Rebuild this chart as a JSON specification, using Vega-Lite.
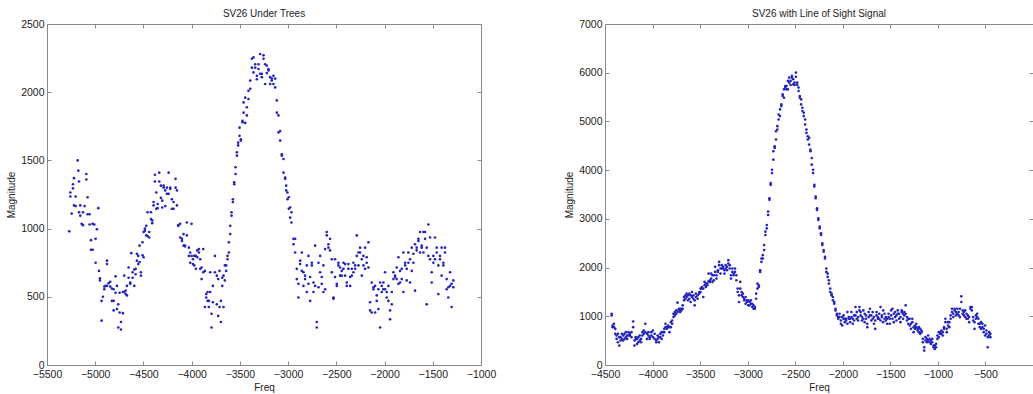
{
"$schema": "https://vega.github.io/schema/vega-lite/v6.json",
"background": "white",
"padding": {"left": 6, "top": 8, "right": 0, "bottom": 0},
"config": {
  "font": "Liberation Sans",
  "view": {"stroke": "#8a8a8a", "strokeWidth": 1},
  "axis": {"grid": false, "domain": false, "tickSize": -4, "tickColor": "#8a8a8a", "labelPadding": 7, "labelFontSize": 10.5, "labelColor": "#222222", "titleFontSize": 10, "titleFontWeight": "normal", "titleColor": "#222222", "titlePadding": 4, "labelFlush": false, "format": "d"},
  "axisBottom": {"labelPadding": 8, "titlePadding": 3},
  "axisTop": {"labelPadding": 0},
  "axisRight": {"labelPadding": 0},
  "title": {"fontSize": 10, "fontWeight": "normal", "color": "#222222", "offset": 0, "dy": 4}
},
"datasets": {
"trees": [
{"f":-5269,"m":980},{"f":-5258,"m":1265},{"f":-5258,"m":1235},{"f":-5244,"m":1110},{"f":-5231,"m":1325},{"f":-5231,"m":1295},{"f":-5220,"m":1370},{"f":-5220,"m":1170},{"f":-5203,"m":1235},{"f":-5203,"m":1165},{"f":-5182,"m":1500},{"f":-5175,"m":1425},{"f":-5168,"m":1345},{"f":-5168,"m":1120},{"f":-5155,"m":1170},{"f":-5155,"m":1095},{"f":-5141,"m":1035},{"f":-5127,"m":1120},{"f":-5127,"m":1025},{"f":-5110,"m":1165},{"f":-5092,"m":1400},{"f":-5092,"m":1360},{"f":-5079,"m":1230},{"f":-5079,"m":1105},{"f":-5058,"m":1105},{"f":-5058,"m":1030},{"f":-5044,"m":915},{"f":-5044,"m":845},{"f":-5027,"m":845},{"f":-5027,"m":1035},{"f":-5010,"m":1030},{"f":-4996,"m":925},{"f":-4996,"m":750},{"f":-4982,"m":995},{"f":-4968,"m":1150},{"f":-4961,"m":690},{"f":-4951,"m":635},{"f":-4951,"m":620},{"f":-4934,"m":470},{"f":-4934,"m":325},{"f":-4920,"m":500},{"f":-4906,"m":575},{"f":-4906,"m":555},{"f":-4892,"m":580},{"f":-4878,"m":765},{"f":-4878,"m":740},{"f":-4878,"m":580},{"f":-4861,"m":600},{"f":-4844,"m":610},{"f":-4844,"m":575},{"f":-4827,"m":560},{"f":-4827,"m":470},{"f":-4809,"m":555},{"f":-4809,"m":470},{"f":-4809,"m":400},{"f":-4789,"m":650},{"f":-4789,"m":530},{"f":-4775,"m":580},{"f":-4775,"m":410},{"f":-4761,"m":275},{"f":-4761,"m":445},{"f":-4747,"m":385},{"f":-4747,"m":530},{"f":-4733,"m":260},{"f":-4733,"m":315},{"f":-4713,"m":380},{"f":-4713,"m":535},{"f":-4699,"m":535},{"f":-4699,"m":655},{"f":-4685,"m":545},{"f":-4685,"m":520},{"f":-4671,"m":510},{"f":-4671,"m":580},{"f":-4654,"m":640},{"f":-4654,"m":715},{"f":-4637,"m":595},{"f":-4637,"m":605},{"f":-4626,"m":820},{"f":-4612,"m":680},{"f":-4612,"m":640},{"f":-4595,"m":700},{"f":-4595,"m":580},{"f":-4581,"m":665},{"f":-4581,"m":705},{"f":-4568,"m":765},{"f":-4568,"m":815},{"f":-4554,"m":740},{"f":-4554,"m":800},{"f":-4540,"m":755},{"f":-4540,"m":875},{"f":-4526,"m":655},{"f":-4526,"m":680},{"f":-4509,"m":900},{"f":-4509,"m":805},{"f":-4498,"m":975},{"f":-4498,"m":790},{"f":-4485,"m":1000},{"f":-4485,"m":985},{"f":-4471,"m":1020},{"f":-4471,"m":950},{"f":-4457,"m":945},{"f":-4457,"m":1120},{"f":-4440,"m":935},{"f":-4440,"m":975},{"f":-4422,"m":1070},{"f":-4422,"m":1120},{"f":-4409,"m":1060},{"f":-4409,"m":1040},{"f":-4395,"m":1195},{"f":-4395,"m":1170},{"f":-4381,"m":1395},{"f":-4381,"m":1345},{"f":-4367,"m":1265},{"f":-4367,"m":1145},{"f":-4353,"m":1180},{"f":-4353,"m":1150},{"f":-4336,"m":1410},{"f":-4336,"m":1345},{"f":-4319,"m":1315},{"f":-4319,"m":1225},{"f":-4305,"m":1155},{"f":-4305,"m":1205},{"f":-4291,"m":1315},{"f":-4291,"m":1300},{"f":-4274,"m":1280},{"f":-4274,"m":1165},{"f":-4257,"m":1255},{"f":-4257,"m":1300},{"f":-4239,"m":1255},{"f":-4239,"m":1410},{"f":-4222,"m":1300},{"f":-4222,"m":1290},{"f":-4205,"m":1145},{"f":-4205,"m":1215},{"f":-4188,"m":1195},{"f":-4188,"m":1145},{"f":-4167,"m":1365},{"f":-4167,"m":1300},{"f":-4153,"m":1170},{"f":-4153,"m":1280},{"f":-4139,"m":1020},{"f":-4139,"m":1025},{"f":-4119,"m":935},{"f":-4119,"m":1035},{"f":-4101,"m":925},{"f":-4101,"m":910},{"f":-4084,"m":875},{"f":-4084,"m":960},{"f":-4070,"m":875},{"f":-4070,"m":870},{"f":-4050,"m":1045},{"f":-4050,"m":950},{"f":-4029,"m":800},{"f":-4029,"m":860},{"f":-4015,"m":825},{"f":-4015,"m":750},{"f":-4001,"m":1035},{"f":-4001,"m":800},{"f":-3987,"m":740},{"f":-3987,"m":775},{"f":-3973,"m":800},{"f":-3973,"m":730},{"f":-3956,"m":800},{"f":-3956,"m":705},{"f":-3942,"m":840},{"f":-3942,"m":790},{"f":-3925,"m":825},{"f":-3925,"m":850},{"f":-3911,"m":775},{"f":-3911,"m":705},{"f":-3897,"m":630},{"f":-3897,"m":715},{"f":-3880,"m":850},{"f":-3880,"m":680},{"f":-3863,"m":425},{"f":-3863,"m":690},{"f":-3849,"m":495},{"f":-3849,"m":520},{"f":-3835,"m":535},{"f":-3835,"m":470},{"f":-3822,"m":425},{"f":-3822,"m":470},{"f":-3808,"m":535},{"f":-3808,"m":680},{"f":-3794,"m":275},{"f":-3794,"m":375},{"f":-3780,"m":580},{"f":-3780,"m":460},{"f":-3759,"m":800},{"f":-3759,"m":680},{"f":-3739,"m":655},{"f":-3739,"m":445},{"f":-3725,"m":360},{"f":-3725,"m":630},{"f":-3711,"m":690},{"f":-3711,"m":425},{"f":-3697,"m":315},{"f":-3697,"m":470},{"f":-3683,"m":640},{"f":-3683,"m":580},{"f":-3670,"m":655},{"f":-3670,"m":425},{"f":-3656,"m":620},{"f":-3656,"m":730},{"f":-3642,"m":690},{"f":-3642,"m":730},{"f":-3628,"m":800},{"f":-3628,"m":775},{"f":-3614,"m":900},{"f":-3614,"m":825},{"f":-3600,"m":960},{"f":-3600,"m":1020},{"f":-3587,"m":1120},{"f":-3587,"m":1095},{"f":-3573,"m":1215},{"f":-3573,"m":1195},{"f":-3559,"m":1340},{"f":-3559,"m":1325},{"f":-3545,"m":1400},{"f":-3545,"m":1450},{"f":-3531,"m":1535},{"f":-3531,"m":1560},{"f":-3518,"m":1610},{"f":-3518,"m":1630},{"f":-3504,"m":1680},{"f":-3504,"m":1740},{"f":-3490,"m":1645},{"f":-3490,"m":1655},{"f":-3473,"m":1780},{"f":-3473,"m":1790},{"f":-3462,"m":1850},{"f":-3462,"m":1925},{"f":-3445,"m":1960},{"f":-3445,"m":1775},{"f":-3428,"m":1890},{"f":-3428,"m":1830},{"f":-3411,"m":1950},{"f":-3411,"m":2010},{"f":-3393,"m":2025},{"f":-3393,"m":2085},{"f":-3376,"m":2180},{"f":-3376,"m":2245},{"f":-3359,"m":2255},{"f":-3359,"m":2145},{"f":-3341,"m":2180},{"f":-3341,"m":2205},{"f":-3324,"m":2095},{"f":-3324,"m":2120},{"f":-3307,"m":2170},{"f":-3307,"m":2205},{"f":-3290,"m":2280},{"f":-3290,"m":2135},{"f":-3272,"m":2110},{"f":-3272,"m":2135},{"f":-3255,"m":2270},{"f":-3255,"m":2245},{"f":-3238,"m":2205},{"f":-3238,"m":2060},{"f":-3221,"m":2195},{"f":-3221,"m":2140},{"f":-3203,"m":2170},{"f":-3203,"m":2160},{"f":-3186,"m":2060},{"f":-3186,"m":2110},{"f":-3169,"m":2100},{"f":-3169,"m":2085},{"f":-3152,"m":2120},{"f":-3152,"m":2060},{"f":-3134,"m":2100},{"f":-3134,"m":2035},{"f":-3117,"m":1940},{"f":-3117,"m":1850},{"f":-3100,"m":1830},{"f":-3100,"m":1705},{"f":-3082,"m":1715},{"f":-3082,"m":1645},{"f":-3065,"m":1545},{"f":-3065,"m":1535},{"f":-3048,"m":1510},{"f":-3048,"m":1410},{"f":-3031,"m":1375},{"f":-3031,"m":1365},{"f":-3020,"m":1280},{"f":-3020,"m":1315},{"f":-3007,"m":1265},{"f":-3007,"m":1215},{"f":-2993,"m":1230},{"f":-2993,"m":1145},{"f":-2979,"m":1080},{"f":-2979,"m":1155},{"f":-2965,"m":1045},{"f":-2965,"m":1120},{"f":-2944,"m":925},{"f":-2944,"m":885},{"f":-2927,"m":825},{"f":-2927,"m":925},{"f":-2910,"m":630},{"f":-2910,"m":705},{"f":-2893,"m":595},{"f":-2893,"m":495},{"f":-2875,"m":740},{"f":-2875,"m":765},{"f":-2858,"m":825},{"f":-2858,"m":690},{"f":-2841,"m":680},{"f":-2841,"m":580},{"f":-2824,"m":655},{"f":-2824,"m":630},{"f":-2806,"m":535},{"f":-2806,"m":730},{"f":-2789,"m":800},{"f":-2789,"m":595},{"f":-2772,"m":470},{"f":-2772,"m":645},{"f":-2754,"m":750},{"f":-2754,"m":730},{"f":-2737,"m":605},{"f":-2737,"m":535},{"f":-2720,"m":875},{"f":-2720,"m":580},{"f":-2703,"m":275},{"f":-2703,"m":315},{"f":-2685,"m":750},{"f":-2685,"m":570},{"f":-2668,"m":680},{"f":-2668,"m":800},{"f":-2651,"m":645},{"f":-2651,"m":595},{"f":-2634,"m":730},{"f":-2634,"m":535},{"f":-2616,"m":850},{"f":-2616,"m":555},{"f":-2599,"m":975},{"f":-2599,"m":950},{"f":-2582,"m":885},{"f":-2582,"m":860},{"f":-2565,"m":925},{"f":-2565,"m":840},{"f":-2547,"m":680},{"f":-2547,"m":775},{"f":-2530,"m":495},{"f":-2530,"m":485},{"f":-2513,"m":645},{"f":-2513,"m":775},{"f":-2495,"m":595},{"f":-2495,"m":580},{"f":-2478,"m":750},{"f":-2478,"m":730},{"f":-2461,"m":655},{"f":-2461,"m":715},{"f":-2444,"m":690},{"f":-2444,"m":655},{"f":-2426,"m":750},{"f":-2426,"m":705},{"f":-2409,"m":655},{"f":-2409,"m":740},{"f":-2392,"m":605},{"f":-2392,"m":580},{"f":-2375,"m":705},{"f":-2375,"m":740},{"f":-2357,"m":580},{"f":-2357,"m":645},{"f":-2340,"m":655},{"f":-2340,"m":705},{"f":-2323,"m":750},{"f":-2323,"m":680},{"f":-2305,"m":705},{"f":-2305,"m":730},{"f":-2288,"m":950},{"f":-2288,"m":800},{"f":-2271,"m":825},{"f":-2271,"m":730},{"f":-2254,"m":860},{"f":-2254,"m":825},{"f":-2236,"m":775},{"f":-2236,"m":655},{"f":-2219,"m":730},{"f":-2219,"m":800},{"f":-2202,"m":860},{"f":-2202,"m":705},{"f":-2185,"m":790},{"f":-2185,"m":750},{"f":-2167,"m":900},{"f":-2167,"m":715},{"f":-2150,"m":460},{"f":-2150,"m":400},{"f":-2133,"m":385},{"f":-2133,"m":605},{"f":-2115,"m":555},{"f":-2115,"m":570},{"f":-2098,"m":385},{"f":-2098,"m":580},{"f":-2081,"m":510},{"f":-2081,"m":470},{"f":-2064,"m":410},{"f":-2064,"m":555},{"f":-2046,"m":275},{"f":-2046,"m":605},{"f":-2029,"m":580},{"f":-2029,"m":535},{"f":-2012,"m":605},{"f":-2012,"m":555},{"f":-1995,"m":680},{"f":-1995,"m":555},{"f":-1977,"m":535},{"f":-1977,"m":495},{"f":-1960,"m":580},{"f":-1960,"m":470},{"f":-1943,"m":335},{"f":-1943,"m":400},{"f":-1925,"m":535},{"f":-1925,"m":445},{"f":-1908,"m":680},{"f":-1908,"m":630},{"f":-1891,"m":655},{"f":-1891,"m":645},{"f":-1874,"m":630},{"f":-1874,"m":715},{"f":-1856,"m":790},{"f":-1856,"m":595},{"f":-1839,"m":605},{"f":-1839,"m":690},{"f":-1822,"m":705},{"f":-1822,"m":630},{"f":-1805,"m":535},{"f":-1805,"m":825},{"f":-1787,"m":730},{"f":-1787,"m":750},{"f":-1770,"m":620},{"f":-1770,"m":705},{"f":-1753,"m":825},{"f":-1753,"m":750},{"f":-1736,"m":605},{"f":-1736,"m":775},{"f":-1718,"m":860},{"f":-1718,"m":690},{"f":-1701,"m":815},{"f":-1701,"m":750},{"f":-1684,"m":545},{"f":-1684,"m":885},{"f":-1667,"m":860},{"f":-1667,"m":840},{"f":-1649,"m":910},{"f":-1649,"m":925},{"f":-1632,"m":975},{"f":-1632,"m":825},{"f":-1615,"m":875},{"f":-1615,"m":860},{"f":-1597,"m":825},{"f":-1597,"m":975},{"f":-1580,"m":975},{"f":-1580,"m":925},{"f":-1563,"m":445},{"f":-1563,"m":860},{"f":-1546,"m":1030},{"f":-1546,"m":800},{"f":-1528,"m":935},{"f":-1528,"m":775},{"f":-1511,"m":605},{"f":-1511,"m":680},{"f":-1494,"m":750},{"f":-1494,"m":800},{"f":-1477,"m":935},{"f":-1477,"m":775},{"f":-1459,"m":860},{"f":-1459,"m":825},{"f":-1442,"m":520},{"f":-1442,"m":730},{"f":-1425,"m":800},{"f":-1425,"m":775},{"f":-1408,"m":655},{"f":-1408,"m":860},{"f":-1390,"m":750},{"f":-1390,"m":730},{"f":-1373,"m":825},{"f":-1373,"m":860},{"f":-1356,"m":555},{"f":-1356,"m":630},{"f":-1339,"m":570},{"f":-1339,"m":495},{"f":-1321,"m":680},{"f":-1321,"m":580},{"f":-1304,"m":595},{"f":-1304,"m":425},{"f":-1287,"m":570},{"f":-1287,"m":620}
],
"los": [
{"f":-4430,"m":1052},{"f":-4430,"m":1018},{"f":-4420,"m":777},{"f":-4420,"m":811},{"f":-4406,"m":777},{"f":-4406,"m":846},{"f":-4392,"m":743},{"f":-4392,"m":640},{"f":-4378,"m":605},{"f":-4378,"m":536},{"f":-4364,"m":468},{"f":-4364,"m":640},{"f":-4350,"m":399},{"f":-4350,"m":571},{"f":-4337,"m":571},{"f":-4337,"m":502},{"f":-4323,"m":536},{"f":-4323,"m":640},{"f":-4309,"m":605},{"f":-4309,"m":502},{"f":-4295,"m":640},{"f":-4295,"m":536},{"f":-4281,"m":571},{"f":-4281,"m":674},{"f":-4267,"m":605},{"f":-4267,"m":536},{"f":-4253,"m":674},{"f":-4253,"m":605},{"f":-4239,"m":605},{"f":-4239,"m":640},{"f":-4222,"m":674},{"f":-4222,"m":571},{"f":-4204,"m":894},{"f":-4204,"m":777},{"f":-4190,"m":399},{"f":-4190,"m":502},{"f":-4177,"m":536},{"f":-4177,"m":571},{"f":-4163,"m":433},{"f":-4163,"m":536},{"f":-4149,"m":468},{"f":-4149,"m":571},{"f":-4135,"m":502},{"f":-4135,"m":605},{"f":-4121,"m":536},{"f":-4121,"m":468},{"f":-4107,"m":605},{"f":-4107,"m":674},{"f":-4093,"m":709},{"f":-4093,"m":640},{"f":-4076,"m":846},{"f":-4076,"m":674},{"f":-4058,"m":536},{"f":-4058,"m":640},{"f":-4044,"m":674},{"f":-4044,"m":605},{"f":-4030,"m":571},{"f":-4030,"m":536},{"f":-4013,"m":605},{"f":-4013,"m":674},{"f":-3996,"m":709},{"f":-3996,"m":571},{"f":-3978,"m":640},{"f":-3978,"m":536},{"f":-3961,"m":502},{"f":-3961,"m":468},{"f":-3947,"m":536},{"f":-3947,"m":605},{"f":-3933,"m":468},{"f":-3933,"m":571},{"f":-3919,"m":571},{"f":-3919,"m":640},{"f":-3905,"m":536},{"f":-3905,"m":674},{"f":-3891,"m":605},{"f":-3891,"m":674},{"f":-3877,"m":674},{"f":-3877,"m":743},{"f":-3864,"m":777},{"f":-3864,"m":846},{"f":-3850,"m":777},{"f":-3850,"m":743},{"f":-3836,"m":811},{"f":-3836,"m":777},{"f":-3822,"m":674},{"f":-3822,"m":777},{"f":-3808,"m":777},{"f":-3808,"m":880},{"f":-3794,"m":846},{"f":-3794,"m":914},{"f":-3780,"m":983},{"f":-3780,"m":1052},{"f":-3766,"m":1018},{"f":-3766,"m":1086},{"f":-3752,"m":1052},{"f":-3752,"m":1121},{"f":-3738,"m":1279},{"f":-3738,"m":1086},{"f":-3724,"m":1121},{"f":-3724,"m":1155},{"f":-3710,"m":1086},{"f":-3710,"m":1155},{"f":-3697,"m":1155},{"f":-3697,"m":1121},{"f":-3683,"m":1155},{"f":-3683,"m":1224},{"f":-3669,"m":1327},{"f":-3669,"m":1396},{"f":-3655,"m":1430},{"f":-3655,"m":1361},{"f":-3641,"m":1396},{"f":-3641,"m":1465},{"f":-3627,"m":1327},{"f":-3627,"m":1430},{"f":-3613,"m":1465},{"f":-3613,"m":1361},{"f":-3599,"m":1430},{"f":-3599,"m":1293},{"f":-3585,"m":1499},{"f":-3585,"m":1396},{"f":-3571,"m":1361},{"f":-3571,"m":1430},{"f":-3557,"m":1327},{"f":-3557,"m":1224},{"f":-3544,"m":1396},{"f":-3544,"m":1465},{"f":-3526,"m":1361},{"f":-3526,"m":1430},{"f":-3509,"m":1465},{"f":-3509,"m":1499},{"f":-3495,"m":1568},{"f":-3495,"m":1499},{"f":-3481,"m":1568},{"f":-3481,"m":1602},{"f":-3467,"m":1396},{"f":-3467,"m":1568},{"f":-3453,"m":1637},{"f":-3453,"m":1705},{"f":-3439,"m":1602},{"f":-3439,"m":1671},{"f":-3425,"m":1671},{"f":-3425,"m":1637},{"f":-3411,"m":1877},{"f":-3411,"m":1719},{"f":-3397,"m":1705},{"f":-3397,"m":1740},{"f":-3384,"m":1877},{"f":-3384,"m":1774},{"f":-3370,"m":1705},{"f":-3370,"m":1843},{"f":-3356,"m":1843},{"f":-3356,"m":1740},{"f":-3342,"m":2015},{"f":-3342,"m":1911},{"f":-3328,"m":1774},{"f":-3328,"m":1843},{"f":-3314,"m":1911},{"f":-3314,"m":1946},{"f":-3300,"m":2118},{"f":-3300,"m":2049},{"f":-3286,"m":1980},{"f":-3286,"m":1877},{"f":-3272,"m":2049},{"f":-3272,"m":1980},{"f":-3258,"m":1980},{"f":-3258,"m":2015},{"f":-3244,"m":1946},{"f":-3244,"m":1877},{"f":-3231,"m":1980},{"f":-3231,"m":2049},{"f":-3217,"m":2015},{"f":-3217,"m":1946},{"f":-3203,"m":2152},{"f":-3203,"m":2083},{"f":-3189,"m":2049},{"f":-3189,"m":1980},{"f":-3175,"m":1774},{"f":-3175,"m":1843},{"f":-3161,"m":1911},{"f":-3161,"m":1980},{"f":-3147,"m":1843},{"f":-3147,"m":1877},{"f":-3133,"m":1980},{"f":-3133,"m":1911},{"f":-3119,"m":1843},{"f":-3119,"m":1740},{"f":-3105,"m":1499},{"f":-3105,"m":1568},{"f":-3091,"m":1293},{"f":-3091,"m":1430},{"f":-3078,"m":1568},{"f":-3078,"m":1705},{"f":-3064,"m":1499},{"f":-3064,"m":1430},{"f":-3050,"m":1465},{"f":-3050,"m":1396},{"f":-3036,"m":1327},{"f":-3036,"m":1361},{"f":-3022,"m":1258},{"f":-3022,"m":1396},{"f":-3008,"m":1327},{"f":-3008,"m":1293},{"f":-2994,"m":1224},{"f":-2994,"m":1327},{"f":-2980,"m":1293},{"f":-2980,"m":1224},{"f":-2966,"m":1327},{"f":-2966,"m":1258},{"f":-2952,"m":1190},{"f":-2952,"m":1258},{"f":-2938,"m":1155},{"f":-2938,"m":1224},{"f":-2924,"m":1190},{"f":-2924,"m":1155},{"f":-2911,"m":1361},{"f":-2911,"m":1465},{"f":-2897,"m":1568},{"f":-2897,"m":1671},{"f":-2883,"m":1602},{"f":-2883,"m":1637},{"f":-2869,"m":1911},{"f":-2869,"m":1946},{"f":-2855,"m":2118},{"f":-2855,"m":2187},{"f":-2841,"m":2187},{"f":-2841,"m":2255},{"f":-2827,"m":2359},{"f":-2827,"m":2462},{"f":-2813,"m":2668},{"f":-2813,"m":2737},{"f":-2799,"m":2805},{"f":-2799,"m":2874},{"f":-2785,"m":3080},{"f":-2785,"m":3149},{"f":-2771,"m":3390},{"f":-2771,"m":3424},{"f":-2758,"m":3699},{"f":-2758,"m":3734},{"f":-2744,"m":3940},{"f":-2744,"m":4009},{"f":-2730,"m":4215},{"f":-2730,"m":4387},{"f":-2716,"m":4456},{"f":-2716,"m":4490},{"f":-2702,"m":4628},{"f":-2702,"m":4799},{"f":-2688,"m":4834},{"f":-2688,"m":4903},{"f":-2674,"m":5040},{"f":-2674,"m":5143},{"f":-2660,"m":5109},{"f":-2660,"m":5246},{"f":-2646,"m":5349},{"f":-2646,"m":5315},{"f":-2632,"m":5521},{"f":-2632,"m":5556},{"f":-2618,"m":5487},{"f":-2618,"m":5659},{"f":-2605,"m":5694},{"f":-2605,"m":5728},{"f":-2591,"m":5659},{"f":-2591,"m":5728},{"f":-2577,"m":5831},{"f":-2577,"m":5659},{"f":-2563,"m":5900},{"f":-2563,"m":5796},{"f":-2549,"m":5831},{"f":-2549,"m":5748},{"f":-2535,"m":5934},{"f":-2535,"m":5900},{"f":-2521,"m":5865},{"f":-2521,"m":5762},{"f":-2507,"m":5748},{"f":-2507,"m":5796},{"f":-2493,"m":5917},{"f":-2493,"m":6003},{"f":-2479,"m":5748},{"f":-2479,"m":5796},{"f":-2465,"m":5694},{"f":-2465,"m":5625},{"f":-2452,"m":5487},{"f":-2452,"m":5521},{"f":-2438,"m":5453},{"f":-2438,"m":5349},{"f":-2424,"m":5281},{"f":-2424,"m":5212},{"f":-2410,"m":5109},{"f":-2410,"m":5178},{"f":-2396,"m":5040},{"f":-2396,"m":4937},{"f":-2382,"m":4834},{"f":-2382,"m":4765},{"f":-2368,"m":4696},{"f":-2368,"m":4628},{"f":-2354,"m":4525},{"f":-2354,"m":4662},{"f":-2340,"m":4421},{"f":-2340,"m":4387},{"f":-2326,"m":4249},{"f":-2326,"m":4112},{"f":-2312,"m":4009},{"f":-2312,"m":3940},{"f":-2299,"m":3699},{"f":-2299,"m":3665},{"f":-2285,"m":3458},{"f":-2285,"m":3424},{"f":-2271,"m":3218},{"f":-2271,"m":3184},{"f":-2257,"m":3012},{"f":-2257,"m":2977},{"f":-2243,"m":2840},{"f":-2243,"m":2805},{"f":-2229,"m":2702},{"f":-2229,"m":2668},{"f":-2215,"m":2496},{"f":-2215,"m":2462},{"f":-2201,"m":2359},{"f":-2201,"m":2324},{"f":-2187,"m":2221},{"f":-2187,"m":2187},{"f":-2173,"m":1980},{"f":-2173,"m":1911},{"f":-2159,"m":1877},{"f":-2159,"m":1808},{"f":-2146,"m":1740},{"f":-2146,"m":1671},{"f":-2132,"m":1568},{"f":-2132,"m":1499},{"f":-2118,"m":1465},{"f":-2118,"m":1430},{"f":-2104,"m":1396},{"f":-2104,"m":1327},{"f":-2090,"m":1293},{"f":-2090,"m":1258},{"f":-2076,"m":1155},{"f":-2076,"m":1121},{"f":-2062,"m":1052},{"f":-2062,"m":1018},{"f":-2048,"m":949},{"f":-2048,"m":983},{"f":-2034,"m":983},{"f":-2034,"m":1052},{"f":-2020,"m":846},{"f":-2020,"m":914},{"f":-2006,"m":983},{"f":-2006,"m":811},{"f":-1992,"m":949},{"f":-1992,"m":1018},{"f":-1978,"m":880},{"f":-1978,"m":949},{"f":-1965,"m":949},{"f":-1965,"m":914},{"f":-1951,"m":846},{"f":-1951,"m":1086},{"f":-1937,"m":949},{"f":-1937,"m":983},{"f":-1923,"m":949},{"f":-1923,"m":880},{"f":-1909,"m":1086},{"f":-1909,"m":983},{"f":-1895,"m":949},{"f":-1895,"m":846},{"f":-1881,"m":1018},{"f":-1881,"m":914},{"f":-1867,"m":1190},{"f":-1867,"m":1018},{"f":-1853,"m":1086},{"f":-1853,"m":949},{"f":-1839,"m":914},{"f":-1839,"m":983},{"f":-1825,"m":1190},{"f":-1825,"m":1121},{"f":-1812,"m":1086},{"f":-1812,"m":1018},{"f":-1798,"m":983},{"f":-1798,"m":914},{"f":-1784,"m":1121},{"f":-1784,"m":949},{"f":-1770,"m":1052},{"f":-1770,"m":880},{"f":-1756,"m":949},{"f":-1756,"m":1018},{"f":-1742,"m":777},{"f":-1742,"m":846},{"f":-1728,"m":1086},{"f":-1728,"m":983},{"f":-1714,"m":1155},{"f":-1714,"m":1018},{"f":-1700,"m":1018},{"f":-1700,"m":914},{"f":-1686,"m":1086},{"f":-1686,"m":949},{"f":-1672,"m":983},{"f":-1672,"m":846},{"f":-1659,"m":743},{"f":-1659,"m":914},{"f":-1645,"m":1018},{"f":-1645,"m":1086},{"f":-1631,"m":949},{"f":-1631,"m":983},{"f":-1617,"m":1052},{"f":-1617,"m":949},{"f":-1603,"m":1190},{"f":-1603,"m":914},{"f":-1589,"m":983},{"f":-1589,"m":1018},{"f":-1575,"m":1121},{"f":-1575,"m":880},{"f":-1561,"m":949},{"f":-1561,"m":1052},{"f":-1547,"m":983},{"f":-1547,"m":914},{"f":-1533,"m":846},{"f":-1533,"m":949},{"f":-1519,"m":1052},{"f":-1519,"m":983},{"f":-1506,"m":949},{"f":-1506,"m":846},{"f":-1492,"m":1121},{"f":-1492,"m":1018},{"f":-1478,"m":1155},{"f":-1478,"m":949},{"f":-1464,"m":1052},{"f":-1464,"m":880},{"f":-1450,"m":1086},{"f":-1450,"m":983},{"f":-1436,"m":914},{"f":-1436,"m":1018},{"f":-1422,"m":1121},{"f":-1422,"m":1052},{"f":-1408,"m":1052},{"f":-1408,"m":949},{"f":-1394,"m":880},{"f":-1394,"m":983},{"f":-1380,"m":1121},{"f":-1380,"m":1086},{"f":-1366,"m":1052},{"f":-1366,"m":949},{"f":-1353,"m":1086},{"f":-1353,"m":1018},{"f":-1339,"m":1224},{"f":-1339,"m":1052},{"f":-1325,"m":983},{"f":-1325,"m":914},{"f":-1311,"m":846},{"f":-1311,"m":949},{"f":-1297,"m":949},{"f":-1297,"m":811},{"f":-1283,"m":846},{"f":-1283,"m":743},{"f":-1269,"m":949},{"f":-1269,"m":880},{"f":-1255,"m":674},{"f":-1255,"m":777},{"f":-1241,"m":811},{"f":-1241,"m":743},{"f":-1227,"m":846},{"f":-1227,"m":777},{"f":-1213,"m":709},{"f":-1213,"m":743},{"f":-1200,"m":777},{"f":-1200,"m":674},{"f":-1186,"m":743},{"f":-1186,"m":640},{"f":-1172,"m":709},{"f":-1172,"m":674},{"f":-1158,"m":536},{"f":-1158,"m":468},{"f":-1144,"m":364},{"f":-1144,"m":296},{"f":-1130,"m":502},{"f":-1130,"m":571},{"f":-1116,"m":536},{"f":-1116,"m":468},{"f":-1102,"m":502},{"f":-1102,"m":605},{"f":-1088,"m":468},{"f":-1088,"m":536},{"f":-1074,"m":433},{"f":-1074,"m":502},{"f":-1060,"m":536},{"f":-1060,"m":468},{"f":-1046,"m":364},{"f":-1046,"m":399},{"f":-1033,"m":399},{"f":-1033,"m":330},{"f":-1019,"m":364},{"f":-1019,"m":433},{"f":-1005,"m":605},{"f":-1005,"m":536},{"f":-991,"m":674},{"f":-991,"m":571},{"f":-977,"m":674},{"f":-977,"m":640},{"f":-963,"m":640},{"f":-963,"m":709},{"f":-949,"m":674},{"f":-949,"m":605},{"f":-935,"m":743},{"f":-935,"m":777},{"f":-921,"m":880},{"f":-921,"m":949},{"f":-907,"m":743},{"f":-907,"m":674},{"f":-893,"m":811},{"f":-893,"m":880},{"f":-880,"m":880},{"f":-880,"m":777},{"f":-866,"m":1018},{"f":-866,"m":949},{"f":-852,"m":1086},{"f":-852,"m":1155},{"f":-838,"m":1052},{"f":-838,"m":983},{"f":-824,"m":1121},{"f":-824,"m":1155},{"f":-810,"m":1018},{"f":-810,"m":1086},{"f":-796,"m":1155},{"f":-796,"m":1052},{"f":-782,"m":1086},{"f":-782,"m":1018},{"f":-768,"m":1155},{"f":-768,"m":983},{"f":-754,"m":1410},{"f":-754,"m":1293},{"f":-740,"m":1121},{"f":-740,"m":1052},{"f":-727,"m":1018},{"f":-727,"m":1086},{"f":-713,"m":983},{"f":-713,"m":1121},{"f":-699,"m":1052},{"f":-699,"m":949},{"f":-685,"m":949},{"f":-685,"m":1018},{"f":-671,"m":880},{"f":-671,"m":983},{"f":-657,"m":1190},{"f":-657,"m":1155},{"f":-643,"m":1190},{"f":-643,"m":1121},{"f":-629,"m":983},{"f":-629,"m":914},{"f":-615,"m":743},{"f":-615,"m":880},{"f":-601,"m":1018},{"f":-601,"m":949},{"f":-587,"m":1052},{"f":-587,"m":983},{"f":-574,"m":949},{"f":-574,"m":846},{"f":-560,"m":846},{"f":-560,"m":777},{"f":-546,"m":743},{"f":-546,"m":880},{"f":-532,"m":846},{"f":-532,"m":777},{"f":-518,"m":743},{"f":-518,"m":674},{"f":-504,"m":811},{"f":-504,"m":605},{"f":-490,"m":640},{"f":-490,"m":709},{"f":-476,"m":364},{"f":-476,"m":571},{"f":-462,"m":674},{"f":-462,"m":605},{"f":-448,"m":640},{"f":-448,"m":571}
]
},
"hconcat": [
  {
    "title": "SV26 Under Trees",
    "width": 434, "height": 341,
    "data": {"name": "trees"},
    "layer": [
      {"mark": {"type": "point", "filled": true, "size": 7, "color": "#2424bb", "opacity": 1},
       "encoding": {
         "x": {"field": "f", "type": "quantitative", "scale": {"domain": [-5500, -1000], "nice": false, "zero": false}, "axis": {"title": "Freq", "values": [-5500,-5000,-4500,-4000,-3500,-3000,-2500,-2000,-1500,-1000]}},
         "y": {"field": "m", "type": "quantitative", "scale": {"domain": [0, 2500], "nice": false}, "axis": {"title": "Magnitude", "values": [0,500,1000,1500,2000,2500]}}
       }},
      {"mark": {"type": "point", "opacity": 0},
       "encoding": {
         "x": {"field": "f", "type": "quantitative", "axis": {"orient": "top", "labels": false, "title": null, "values": [-5500,-5000,-4500,-4000,-3500,-3000,-2500,-2000,-1500,-1000]}},
         "y": {"field": "m", "type": "quantitative", "axis": {"orient": "right", "labels": false, "title": null, "values": [0,500,1000,1500,2000,2500]}}
       }}
    ],
    "resolve": {"axis": {"x": "independent", "y": "independent"}}
  },
  {
    "title": "SV26 with Line of Sight Signal",
    "width": 428, "height": 341,
    "data": {"name": "los"},
    "layer": [
      {"mark": {"type": "point", "filled": true, "size": 7, "color": "#2424bb", "opacity": 1},
       "encoding": {
         "x": {"field": "f", "type": "quantitative", "scale": {"domain": [-4500, 0], "nice": false, "zero": false}, "axis": {"title": "Freq", "values": [-4500,-4000,-3500,-3000,-2500,-2000,-1500,-1000,-500]}},
         "y": {"field": "m", "type": "quantitative", "scale": {"domain": [0, 7000], "nice": false}, "axis": {"title": "Magnitude", "values": [0,1000,2000,3000,4000,5000,6000,7000]}}
       }},
      {"mark": {"type": "point", "opacity": 0},
       "encoding": {
         "x": {"field": "f", "type": "quantitative", "axis": {"orient": "top", "labels": false, "title": null, "values": [-4500,-4000,-3500,-3000,-2500,-2000,-1500,-1000,-500]}},
         "y": {"field": "m", "type": "quantitative", "axis": {"orient": "right", "labels": false, "title": null, "values": [0,1000,2000,3000,4000,5000,6000,7000]}}
       }}
    ],
    "resolve": {"axis": {"x": "independent", "y": "independent"}}
  }
],
"spacing": 124,
"bounds": "flush"
}
